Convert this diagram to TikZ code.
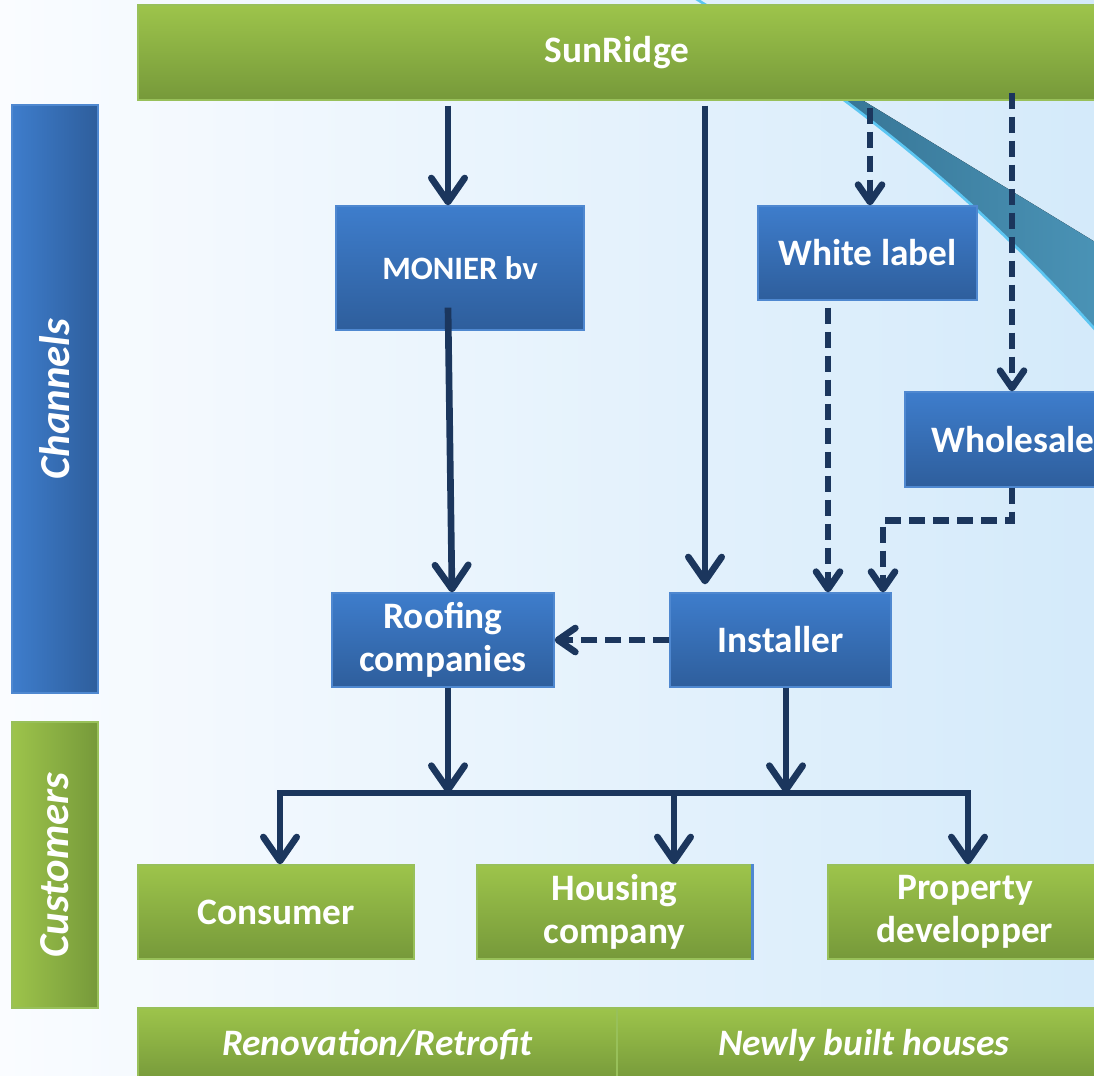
\documentclass[tikz,border=0pt]{standalone}
\usepackage{fontspec}
\setmainfont{Carlito}
\usetikzlibrary{arrows.meta,calc}
\definecolor{gtop}{HTML}{9DC44B}
\definecolor{gbot}{HTML}{76993A}
\definecolor{gline}{HTML}{98C05A}
\definecolor{btop}{HTML}{3E7DCC}
\definecolor{bbot}{HTML}{2E5E9C}
\definecolor{bline}{HTML}{4F88D0}
\definecolor{navy}{HTML}{1B365D}
\definecolor{bgL}{HTML}{FAFCFF}
\definecolor{bgR}{HTML}{D4EAFA}
\definecolor{teal1}{HTML}{2C6584}
\definecolor{teal2}{HTML}{4A93B6}
\definecolor{cyanl}{HTML}{5CC6F2}
\tikzset{
  box/.style={inner sep=0pt, align=center, text=white, line width=1pt,
    font=\bfseries\fontsize{28}{32.5}\selectfont},
  greenbox/.style={box, draw=gline, top color=gtop, bottom color=gbot},
  bluebox/.style={box, draw=bline, top color=btop, bottom color=bbot},
  sidebluebox/.style={box, draw=bline, left color=btop, right color=bbot,
    font=\bfseries\itshape\fontsize{32}{38}\selectfont},
  sidegreenbox/.style={box, draw=gline, left color=gtop, right color=gbot,
    font=\bfseries\itshape\fontsize{32}{38}\selectfont},
  barbox/.style={greenbox, font=\bfseries\itshape\fontsize{28}{32}\selectfont},
  sz/.style 2 args={minimum width=#1*0.75pt, minimum height=#2*0.75pt},
  conn/.style={draw=navy, line width=5pt},
  solidarr/.style={conn, -{Straight Barb[length=18pt,width=25pt,round]}},
  dasharr/.style={conn, dash pattern=on 12pt off 6pt,
    -{Straight Barb[length=13pt,width=18pt,round]}},
}
\begin{document}
\begin{tikzpicture}[x=0.75pt,y=-0.75pt]
\useasboundingbox (0,0) rectangle (1094,1075);
\clip (0,0) rectangle (1094,1075);
% background
\fill[left color=bgL, right color=bgR] (0,0) rectangle (1094,1075);
% swoosh
\fill[left color=teal1, right color=teal2]
  (690,-5) .. controls (850,95) and (980,200) .. (1100,335) -- (1100,245) -- cycle;
\draw[cyanl, line width=2pt]
  (690,-5) .. controls (850,95) and (980,200) .. (1100,335);

% nodes
\node[greenbox, sz={958}{95}] (sun) at (617,52.5) {SunRidge};
\node[sidebluebox, sz={86}{588}] (chan) at (55,399) {\rotatebox{90}{Channels}};
\node[sidegreenbox, sz={86}{286}] (cust) at (55,865) {\rotatebox{90}{Customers}};
\node[bluebox, sz={248}{124}, font=\bfseries\fontsize{24.5}{28}\selectfont] (mon) at (460,268) {MONIER bv};
\node[bluebox, sz={219}{94}] (wl) at (867.5,253) {White label};
\node[bluebox, sz={216}{95}] (ws) at (1013,439.5) {Wholesale};
\node[bluebox, sz={222}{94}] (roof) at (443,640) {Roofing\\companies};
\node[bluebox, sz={221}{94}] (inst) at (780.5,640) {Installer};
\node[greenbox, sz={276}{94}] (cons) at (276,912) {Consumer};
\node[greenbox, sz={275}{94}] (hous) at (614.5,912) {Housing\\company};
\draw[bline, line width=2.2pt] (hous.north east) -- (hous.south east);
\node[greenbox, sz={274}{94}] (prop) at (965,912) {Property\\developper};
\node[barbox, sz={479}{74}] (reno) at (377.5,1045) {Renovation/Retrofit};
\node[barbox, sz={494}{74}] (newb) at (864,1045) {Newly built houses};

% connectors
\draw[solidarr] ($(sun.south -| mon.north)+(-12,5)$) -- ($(mon.north)+(-12,0)$);
\draw[solidarr] ($(mon.south)+(-12,-23)$) -- ($(roof.north)+(9,0)$);
\draw[solidarr] ($(sun.south -| inst.north)+(-75.5,5)$) -- ($(inst.north)+(-75.5,-8)$);
\draw[dasharr] ($(sun.south -| wl.north)+(2.5,7)$) -- ($(wl.north)+(2.5,0)$);
\draw[dasharr] ($(sun.south -| ws.north)+(-1,-8)$) -- ($(ws.north)+(-1,0)$);
\draw[dasharr] ($(wl.south)+(-39.5,7)$) -- ($(inst.north)+(47.5,0)$);
\draw[dasharr] ($(ws.south)+(-1,0)$) |- ($(inst.north)+(102.5,-72)$) -- ($(inst.north)+(102.5,0)$);
\draw[dasharr] (inst.west) -- (roof.east);

\coordinate (busL) at (280,793);
\coordinate (busH) at (674,793);
\coordinate (busR) at (968,793);
\coordinate (r1) at ($(roof.south)+(5,0)$);
\coordinate (i1) at ($(inst.south)+(5.5,0)$);
\draw[solidarr] (r1) -- (r1 |- busL);
\draw[solidarr] (i1) -- (i1 |- busL);
\draw[conn, line cap=rect] (busL) -- (busR);
\draw[solidarr] (busL) -- (busL |- cons.north);
\draw[solidarr] (busH) -- (busH |- hous.north);
\draw[solidarr] (busR) -- (busR |- prop.north);
\end{tikzpicture}
\end{document}
